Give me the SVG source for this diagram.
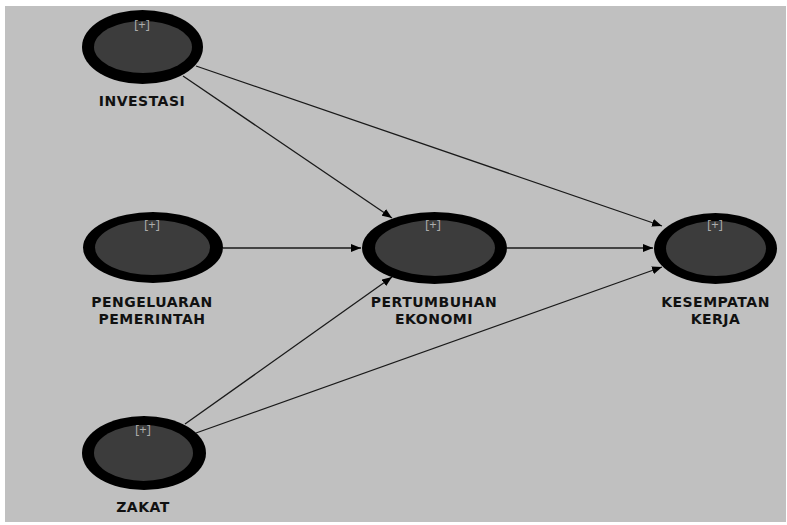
<svg xmlns="http://www.w3.org/2000/svg" width="787" height="525" viewBox="0 0 787 525">
<style>
.o{fill:#000}
.i{fill:#3c3c3c}
.p{font-family:"Open Sans","DejaVu Sans",sans-serif;font-size:13px;fill:#acacac;text-anchor:middle}
.l{font-family:"DejaVu Sans",sans-serif;font-size:14px;font-weight:700;fill:#111;text-anchor:middle;letter-spacing:0.5px}
.e{stroke:#1a1a1a;stroke-width:1.3;fill:none;marker-end:url(#a)}
</style>
<defs>
<marker id="a" viewBox="0 0 10 8" refX="10" refY="4" markerWidth="10" markerHeight="8" markerUnits="userSpaceOnUse" orient="auto">
<path d="M0,0 L10,4 L0,8 Z" fill="#000"/>
</marker>
</defs>
<rect x="0" y="0" width="787" height="525" fill="#fff"/>
<rect x="5" y="6" width="781" height="516" fill="#c0c0c0"/>
<g id="edges">
<line class="e" x1="183" y1="76" x2="392" y2="218"/>
<line class="e" x1="196" y1="66" x2="662" y2="226"/>
<line class="e" x1="223" y1="248" x2="361" y2="248"/>
<line class="e" x1="507" y1="248" x2="653" y2="248"/>
<line class="e" x1="185" y1="424" x2="392" y2="277"/>
<line class="e" x1="196" y1="433" x2="662" y2="267"/>
</g>
<g id="investasi">
<ellipse class="o" cx="142.5" cy="47" rx="60.5" ry="37"/>
<ellipse class="i" cx="143" cy="47" rx="49" ry="26"/>
<text class="p" x="142" y="29">[+]</text>
<text class="l" x="142" y="106">INVESTASI</text>
</g>
<g id="pengeluaran">
<ellipse class="o" cx="153" cy="247.5" rx="70" ry="35.5"/>
<ellipse class="i" cx="152.5" cy="247.5" rx="57.5" ry="27.5"/>
<text class="p" x="152" y="229">[+]</text>
<text class="l" x="152" y="307">PENGELUARAN</text>
<text class="l" x="152" y="324">PEMERINTAH</text>
</g>
<g id="pertumbuhan">
<ellipse class="o" cx="434.5" cy="248" rx="72.5" ry="36"/>
<ellipse class="i" cx="435" cy="248" rx="60" ry="28"/>
<text class="p" x="433" y="229">[+]</text>
<text class="l" x="434" y="307">PERTUMBUHAN</text>
<text class="l" x="434" y="324">EKONOMI</text>
</g>
<g id="kesempatan">
<ellipse class="o" cx="715.5" cy="248.5" rx="61.5" ry="35.5"/>
<ellipse class="i" cx="716" cy="248.5" rx="50" ry="27.5"/>
<text class="p" x="715" y="229">[+]</text>
<text class="l" x="715.5" y="307">KESEMPATAN</text>
<text class="l" x="715.5" y="324">KERJA</text>
</g>
<g id="zakat">
<ellipse class="o" cx="144" cy="453" rx="62" ry="37"/>
<ellipse class="i" cx="143.5" cy="453" rx="49.5" ry="28"/>
<text class="p" x="143" y="434">[+]</text>
<text class="l" x="143" y="512">ZAKAT</text>
</g>
</svg>
